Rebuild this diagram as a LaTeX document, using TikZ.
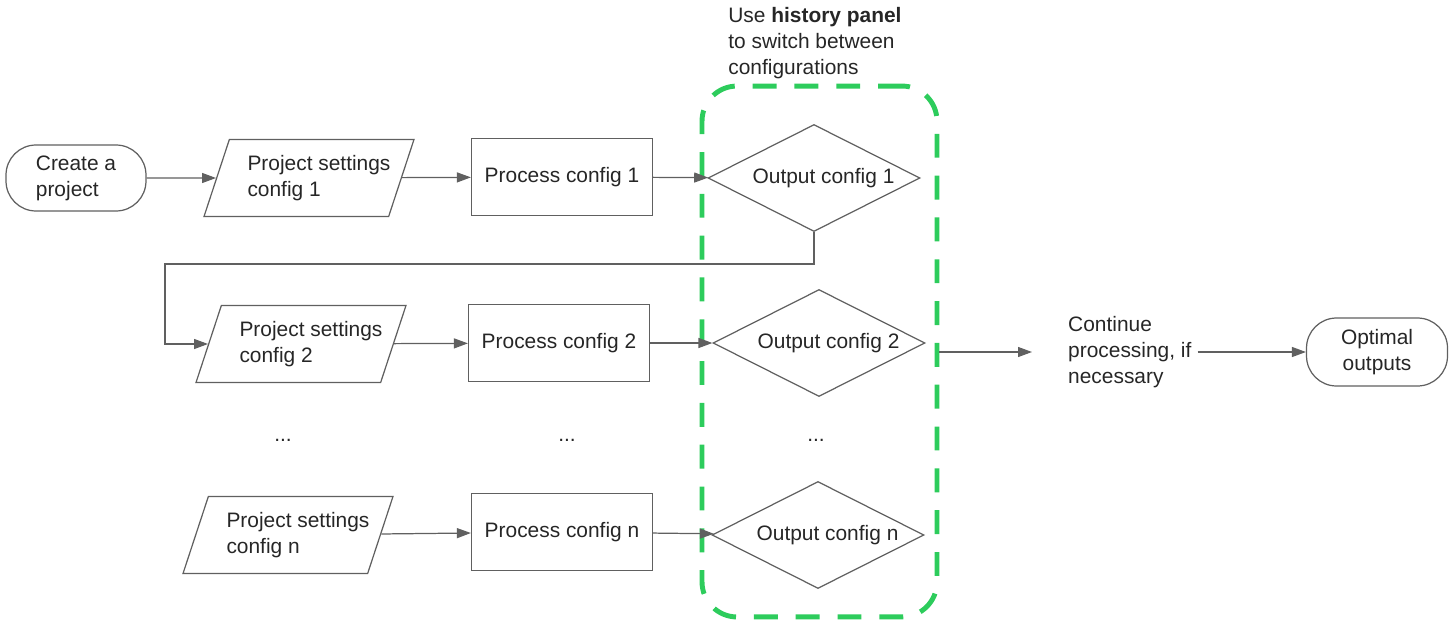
\documentclass[tikz,border=0pt]{standalone}
\usepackage{fontspec}
\setmainfont{Liberation Sans}
\usetikzlibrary{shapes.geometric, positioning, arrows.meta}
\definecolor{flowgray}{HTML}{606060}
\definecolor{histgreen}{HTML}{2DCC5C}

\begin{document}
\begin{tikzpicture}[
  x=0.02cm, y=-0.02cm,
  every node/.style={font=\fontsize{11.9}{14.7}\selectfont, text=black!85, align=left},
  terminal/.style={draw=flowgray, line width=0.7pt, rectangle, rounded corners=0.6cm, minimum width=2.8cm, minimum height=1.32cm},
  settings/.style={draw=flowgray, line width=0.7pt, trapezium, trapezium left angle=60.8, trapezium right angle=119.2, trapezium stretches body, minimum width=4.2cm, minimum height=1.54cm, inner sep=0pt},
  process/.style={draw=flowgray, line width=0.7pt, rectangle, minimum width=3.62cm, minimum height=1.54cm},
  output/.style={draw=flowgray, line width=0.7pt, diamond, aspect=2, inner sep=0pt, minimum width=4.24cm, minimum height=2.14cm, execute at begin node=\hspace*{0.38cm}},
  history/.style={draw=histgreen, line width=2.8pt, dash pattern=on 13.6pt off 10.2pt, rounded corners=0.7cm, minimum width=4.7cm, minimum height=10.62cm},
  flow/.style={draw=flowgray, line width=0.7pt, -{Triangle[length=0.28cm, width=0.2cm]}}
]
\useasboundingbox (0,0) rectangle (1456,625);

% first configuration
\node[terminal] (create) at (76,178) {Create a\\project};
\node[settings] (set1) at (309,178) {\makebox[2.46cm][l]{Project settings}\\config 1};
\node[process] (proc1) at (562,177) {Process config 1};
\node[output] (out1) at (814,178) {Output config 1};

% second configuration
\node[settings] (set2) at (301,344) {\makebox[2.46cm][l]{Project settings}\\config 2};
\node[process] (proc2) at (559,343) {Process config 2};
\node[output] (out2) at (819,343) {Output config 2};

\node (dots1) at (283,440) {...};
\node (dots2) at (567,440) {...};
\node (dots3) at (816,440) {...};

% last configuration
\node[settings] (setn) at (288,535) {\makebox[2.46cm][l]{Project settings}\\config n};
\node[process] (procn) at (562,532) {Process config n};
\node[output] (outn) at (818,535) {Output config n};

% history panel
\node[history] (hist) at (819.5,351.5) {};
\node[anchor=west, inner sep=0pt] (note) at (728,43) {Use \textbf{history panel}\\to switch between\\configurations};

\node[anchor=west] (cont) at (1062,352) {Continue\\processing, if\\necessary};
\node[terminal, align=center, minimum width=2.82cm, minimum height=1.36cm] (optimal) at (1377,352) {Optimal\\outputs};

\draw[flow] (create) -- (set1);
\draw[flow] (set1) -- (proc1);
\draw[flow] (proc1) -- (out1);
\coordinate (turn) at (165,264);
\draw[flow] (out1.south) |- (turn) |- (set2.west);
\draw[flow] (set2) -- (proc2);
\draw[flow] (proc2) -- (out2);
\draw[flow] (setn) -- (procn);
\draw[flow] (procn) -- (outn);
\draw[flow, shorten >=0.6cm] (hist.east |- cont.west) -- (cont.west);
\draw[flow] (cont) -- (optimal);
\end{tikzpicture}
\end{document}
